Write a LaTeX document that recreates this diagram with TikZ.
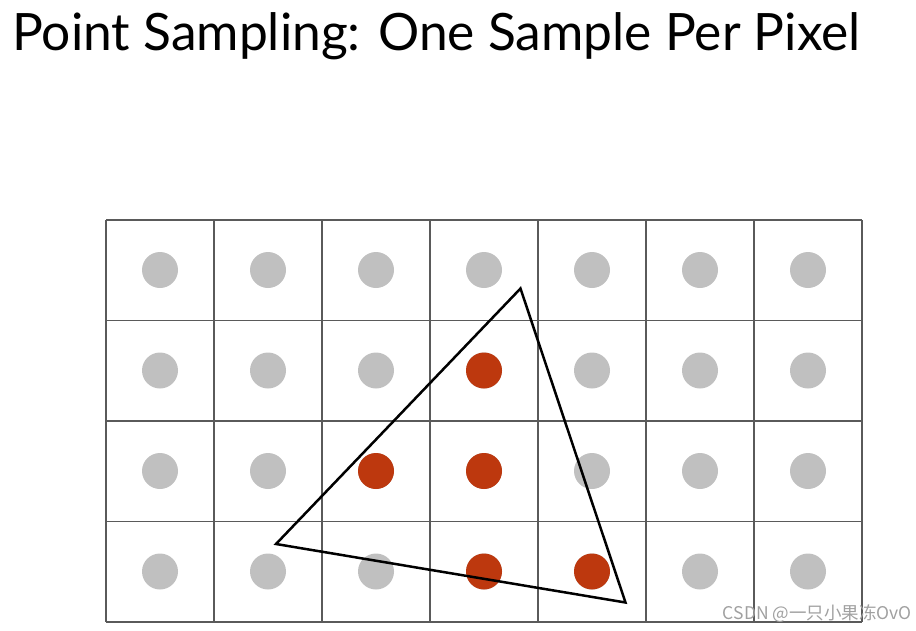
\documentclass[tikz,border=0pt]{standalone}
\usepackage{fontspec}
\setmainfont{Lato}
\newfontfamily\cjk{Noto Sans CJK SC}
\usepackage{tikz}

\definecolor{samplegrey}{HTML}{C0C0C0}
\definecolor{samplered}{HTML}{BD380E}
\definecolor{gridline}{HTML}{5A5A5A}
\definecolor{markgrey}{HTML}{A0A0A0}

\tikzset{
	pixelgrid/.style={draw=gridline, line width=1.4pt},
	sampleout/.style={fill=samplegrey},
	samplein/.style={fill=samplered},
	tri/.style={draw=black, line width=2.5pt, line join=miter}
}

\begin{document}
\begin{tikzpicture}[x=1pt, y=-1pt]
	\useasboundingbox (0, 0) rectangle (916, 630);
	% Title:
	\node[anchor=base west, inner sep=0pt, font=\fontsize{51.5}{60}\selectfont] (title) at (12, 50) {Point Sampling: One Sample Per Pixel};
	% Pixel grid:
	\foreach \i in {0,...,7}
		\draw[pixelgrid] (106 + 108*\i, 220) -- (106 + 108*\i, 622);
	\foreach \j in {0,...,4}
		\draw[pixelgrid] (106, 220 + 100.5*\j) -- (862, 220 + 100.5*\j);
	% Samples, one per pixel:
	\foreach \i in {0,...,6}
		\foreach \j in {0,...,3}
			\fill[sampleout] (160 + 108*\i, 270 + 100.5*\j) circle (18pt);
	\foreach \i/\j in {3/1, 2/2, 3/2, 3/3, 4/3}
		\fill[samplein] (160 + 108*\i, 270 + 100.5*\j) circle (18pt);
	% Triangle:
	\coordinate (top) at (520.5, 288.5);
	\coordinate (left) at (276, 544);
	\coordinate (right) at (625.5, 602.5);
	\draw[tri] (top) -- (left) -- (right) -- cycle;
	% Watermark:
	\node[anchor=base east, inner sep=0pt, text=markgrey, font=\cjk\fontsize{17.5}{20}\selectfont] (mark) at (912, 619) {CSDN @一只小果冻OvO};
\end{tikzpicture}
\end{document}
